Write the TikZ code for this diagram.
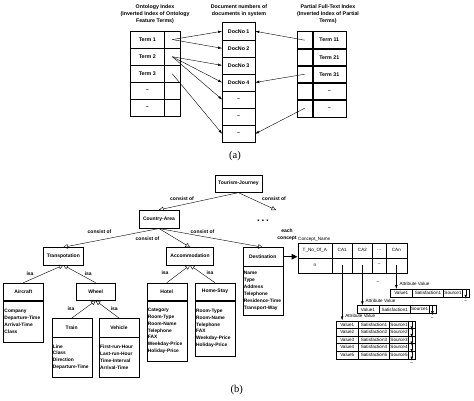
\documentclass[tikz,border=0pt]{standalone}
\usepackage{fontspec}
\setmainfont{Liberation Serif}
\setsansfont{Liberation Sans}
\usetikzlibrary{positioning}
\usetikzlibrary{arrows.meta}

\newcommand{\idxfont}{\fontsize{5.3}{7}\selectfont\sffamily\bfseries}
\newcommand{\clsfont}{\fontsize{5}{6.9}\selectfont\sffamily\bfseries}
\newcommand{\attfont}{\fontsize{4.85}{6.9}\selectfont\sffamily\bfseries}
\newcommand{\tabfont}{\fontsize{4.6}{5.5}\selectfont\sffamily}
\newcommand{\capfont}{\fontsize{10.5}{12}\selectfont}

\tikzset{
    idx/.style={draw, inner sep=0pt, minimum height=17.1pt, font=\idxfont},
    cls/.style={draw, fill=white, inner sep=1pt, minimum width=40pt, minimum height=17.5pt, font=\clsfont},
    attbox/.style={draw, inner xsep=1.2pt, inner ysep=1.5pt, minimum width=40pt, text width=37.6pt, align=left, anchor=north, font=\attfont},
    tab/.style={draw, inner sep=0pt, font=\tabfont},
    ptr/.style={-{Latex[length=4pt,width=2.6pt]}},
    consist/.style={-{Triangle[open,length=4.5pt,width=4.5pt]}},
    isa/.style={{Triangle[open,length=4.5pt,width=4.5pt]}-},
    rel/.style={font=\clsfont},
}

\begin{document}
\begin{tikzpicture}[x=1pt, y=-1pt]
    \useasboundingbox (0,0) rectangle (474,401);

    % (a) the three indexes
    \node[align=center, font=\idxfont] (onttitle) at (155,14) {Ontology Index\\(Inverted Index of Ontology\\Feature Terms)};
    \node[align=center, font=\idxfont] (doctitle) at (239,11) {Document numbers of\\documents in system};
    \node[align=center, font=\idxfont] (ptltitle) at (328,14) {Partial Full-Text Index\\(Inverted Index of Partial\\Terms)};

    \foreach \t [count=\i] in {Term 1,Term 2,Term 3,--,--} {
        \node[idx, minimum width=33.3pt] (ot\i) at (147.3, 22.43+17.14*\i) {\t};
        \node[idx, minimum width=16.7pt] (op\i) at (172.3, 22.43+17.14*\i) {};
    }

    \foreach \t [count=\i] in {DocNo 1,DocNo 2,DocNo 3,DocNo 4,--,--,--}
        \node[idx, minimum width=32.7pt] (dn\i) at (238.7, 14.15+17.09*\i) {\t};

    \foreach \t [count=\i] in {Term 11,Term 21,Term 31,--,--} {
        \node[idx, minimum width=16pt] (pp\i) at (304.7, 23.2+17*\i) {};
        \node[idx, minimum width=33.3pt] (pt\i) at (329.3, 23.2+17*\i) {\t};
    }

    \draw[ptr] (op1.center) -- (dn1.west);
    \draw[ptr] (op1.center) -- (dn2.west);
    \draw[ptr] (op2.center) -- (dn3.west);
    \draw[ptr] (op2.center) -- (dn4.west);
    \draw[ptr] (op2.center) -- (dn5.west);
    \draw[ptr] (op3.center) -- (dn7.west);
    \draw[ptr] (pp1.center) -- (dn1.east);
    \draw[ptr] (pp3.center) -- (dn4.east);
    \draw[ptr] (pp5.center) -- (dn7.east);

    \node[font=\capfont] (capa) at (235,156) {(a)};

    % (b) the concept tree
    \node[cls, minimum width=46.7pt] (tj) at (238.4,183.7) {Tourism-Journey};
    \node[cls, minimum height=18.3pt] (ca) at (159,219.2) {Country-Area};
    \node[cls] (tr) at (63.3,256.2) {Transpotation};
    \node[cls, minimum width=46.7pt] (ac) at (190,256.2) {Accommodation};
    \node[cls, minimum height=18.5pt] (de) at (262.7,256.7) {Destination};
    \node[cls] (af) at (23.3,291.7) {Aircraft};
    \node[cls, minimum width=39.3pt] (wh) at (95.7,291.7) {Wheel};
    \node[cls, minimum height=18.4pt] (tn) at (71.7,327.5) {Train};
    \node[cls, minimum height=18.4pt] (vh) at (119,327.5) {Vehicle};
    \node[cls] (ho) at (166.7,291.7) {Hotel};
    \node[cls] (hs) at (215,291.7) {Home-Stay};
    \coordinate (more) at (276,210);

    \node[attbox, minimum height=41pt] (afatt) at (af.south) {Company\\Departure-Time\\Arrival-Time\\Class};
    \node[attbox, minimum height=40pt] (tnatt) at (tn.south) {Line\\Class\\Direction\\Departure-Time};
    \node[attbox, minimum height=40pt] (vhatt) at (vh.south) {First-run-Hour\\Last-run-Hour\\Time-Interval\\Arrival-Time};
    \node[attbox, minimum height=60pt] (hoatt) at (ho.south) {Category\\Room-Type\\Room-Name\\Telephone\\FAX\\Weekday-Price\\Holiday-Price};
    \node[attbox, minimum height=55pt] (hsatt) at (hs.south) {Room-Type\\Room-Name\\Telephone\\FAX\\Weekday-Price\\Holiday-Price};
    \node[attbox, minimum height=49pt] (deatt) at (de.south) {Name\\Type\\Address\\Telephone\\Residence-Time\\Transport-Way};

    \draw[consist] (tj.south) -- (ca.north);
    \draw[consist] (tj.south) -- (more);
    \draw[consist] (ca.south) -- (tr.north);
    \draw[consist] (ca.south) -- (ac.north);
    \draw[consist] (ca.south) -- (de.north);

    \draw[isa] (tr.south) -- (af.north);
    \draw[isa] (tr.south) -- (wh.north);
    \draw[isa] (wh.south) -- (tn.north);
    \draw[isa] (wh.south) -- (vh.north);
    \draw[isa] (ac.south) -- (ho.north);
    \draw[isa] (ac.south) -- (hs.north);

    \node[rel] (rtj1) at (182,199) {consist of};
    \node[rel] (rtj2) at (274,198.3) {consist of};
    \node[rel] (rca1) at (99.5,231.7) {consist of};
    \node[rel] (rca2) at (147.5,238.3) {consist of};
    \node[rel] (rca3) at (202.5,231.7) {consist of};
    \node[rel] (rtr1) at (30,274) {isa};
    \node[rel] (rtr2) at (88.3,274) {isa};
    \node[rel] (rwh1) at (71,308.3) {isa};
    \node[rel] (rwh2) at (114.3,308.3) {isa};
    \node[rel] (rac1) at (165,272.3) {isa};
    \node[rel] (rac2) at (210,272.3) {isa};
    \node[font=\fontsize{10}{12}\selectfont\sffamily\bfseries] (dots) at (263,221) {.\,.\,.};

    % concept table
    \node[font=\clsfont, align=center] (each) at (287,235) {each\\concept};
    \foreach \x/\w/\a/\b [count=\i] in {314.85/34.3/T\_No\_Of\_A/n, 342.15/20.3/CA1/{}, 362.4/20.2/CA2/{}, 379.25/13.5/\ldots/--, 396.35/20.7/CAn/{}} {
        \node[tab, minimum width=\w pt, minimum height=15pt] (ch\i) at (\x,250.2) {\a};
        \node[tab, minimum width=\w pt, minimum height=15pt] (cv\i) at (\x,265.2) {\b};
    }
    \node[font=\tabfont, anchor=south west, inner sep=0.5pt] (cname) at (ch1.north west) {Concept\_Name};
    \draw[line width=1.3pt, -{Triangle[length=6pt,width=5.5pt]}] (de.east) -- (de.east -| ch1.west);
    \node[font=\tabfont] (nilca) at (378,283) {--};

    % attribute value tables
    \foreach \t/\xo/\yo/\nr in {a/390/293/1, b/356.7/309.4/1, c/336/324.5/5} {
        \foreach \k in {1,...,\nr} {
            \node[tab, minimum width=22.5pt, minimum height=7.6pt] (val-\t\k) at (\xo+11.25, \yo+7.6*\k-7.6) {Value\k};
            \node[tab, minimum width=31pt, minimum height=7.6pt] (sat-\t\k) at (\xo+38, \yo+7.6*\k-7.6) {Satisfaction\k};
            \node[tab, minimum width=19pt, minimum height=7.6pt] (src-\t\k) at (\xo+63, \yo+7.6*\k-7.6) {Source\k};
            \node[tab, minimum width=6.5pt, minimum height=7.6pt] (nxt-\t\k) at (\xo+75.75, \yo+7.6*\k-7.6) {};
            \draw[ptr] ([yshift=-1pt]nxt-\t\k.north) -- ([yshift=-1.8pt]nxt-\t\k.south);
        }
        \node[font=\tabfont] (nil-\t) at ([yshift=-5pt]nxt-\t\nr.south) {--};
    }

    \draw[ptr] (cv2.center) -- (cv2.center |- val-c1.north);
    \draw[ptr] (cv3.center) -- (cv3.center |- val-b1.north);
    \draw[ptr] (cv5.center) -- (cv5.center |- val-a1.north);
    \node[font=\tabfont, anchor=south west, inner sep=0.5pt] (avc) at ([xshift=2.5pt, yshift=2.5pt]cv2.center |- val-c1.north) {Attribute Value};
    \node[font=\tabfont, anchor=south west, inner sep=0.5pt] (avb) at ([xshift=2.5pt, yshift=2.5pt]cv3.center |- val-b1.north) {Attribute Value};
    \node[font=\tabfont, anchor=south west, inner sep=0.5pt] (ava) at ([xshift=2.5pt, yshift=2.5pt]cv5.center |- val-a1.north) {Attribute Value};

    \node[font=\capfont] (capb) at (236.7,390) {(b)};
\end{tikzpicture}
\end{document}
